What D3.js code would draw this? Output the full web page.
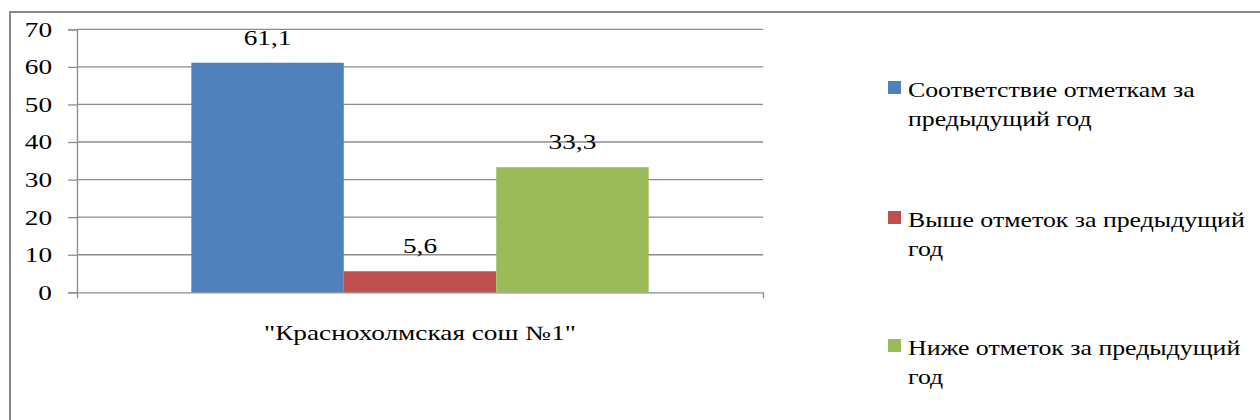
<!DOCTYPE html>
<html>
<head>
<meta charset="utf-8">
<script src="https://cdn.jsdelivr.net/npm/d3@7"></script>
</head>
<body style="margin:0;background:#fff">
<svg id="chart" width="1260" height="420" style="display:block"></svg>
<script>
// School results compared with the previous year's marks
const categories = ['"Краснохолмская сош №1"'];
const seriesNames = [
  "Соответствие отметкам за предыдущий год",
  "Выше отметок за предыдущий год",
  "Ниже отметок за предыдущий год"
];
const legendLines = [
  ["Соответствие отметкам за", "предыдущий год"],
  ["Выше отметок за предыдущий", "год"],
  ["Ниже отметок за предыдущий", "год"]
];
const seriesValues = [61.1, 5.6, 33.3];
const valueLabels = ["61,1", "5,6", "33,3"];
const yTicks = [0, 10, 20, 30, 40, 50, 60, 70];
const colors = ["#4f81bd", "#c0504d", "#9bbb59"];

// the document's text is set wide: horizontal stretch applied to labels
const SX = 1.33;
const SX_LEGEND = 1.26;
const FONT = '"Liberation Serif"';
const FSIZE = 20.5;

const svg = d3.select("#chart");

function styleText(sel) {
  return sel.attr("font-family", FONT).attr("font-size", FSIZE).attr("fill", "#000");
}

// outer chart frame (runs past the right and bottom edges)
svg.append("rect")
  .attr("x", 10).attr("y", 12)
  .attr("width", 1300).attr("height", 460)
  .attr("fill", "#fff")
  .attr("stroke", "#868686").attr("stroke-width", 2);

const plot = { left: 77, right: 763, top: 29.3, bottom: 292.3 };

const y = d3.scaleLinear().domain([0, 70]).range([plot.bottom, plot.top]);
const x0 = d3.scaleBand().domain(categories).range([plot.left, plot.right]);
// gap width 150% of a bar => bars fill 3/4.5 of the band
const x1 = d3.scaleBand().domain(seriesNames)
  .range([0, x0.bandwidth()]).paddingOuter(0.75).paddingInner(0);

// horizontal gridlines
svg.append("g")
  .selectAll("line")
  .data(yTicks.filter(t => t > 0))
  .join("line")
  .attr("x1", plot.left).attr("x2", plot.right)
  .attr("y1", d => y(d)).attr("y2", d => y(d))
  .attr("stroke", "#8c8c8c").attr("stroke-width", 1.3);

// y axis
const yAxis = svg.append("g")
  .attr("transform", `translate(${plot.left},0)`)
  .call(d3.axisLeft(y).tickValues(yTicks).tickSize(9).tickFormat(d3.format("d")));
yAxis.attr("font-family", FONT).attr("font-size", FSIZE);
yAxis.select(".domain").attr("stroke", "#8c8c8c").attr("stroke-width", 1.3);
yAxis.selectAll(".tick line").attr("stroke", "#8c8c8c").attr("stroke-width", 1.3);
yAxis.selectAll(".tick text")
  .call(styleText)
  .attr("x", -25 / SX)
  .attr("dy", "0.34em")
  .attr("transform", `scale(${SX},1)`);

// x axis
const xAxis = svg.append("g")
  .attr("transform", `translate(0,${plot.bottom})`)
  .call(d3.axisBottom(x0).tickSizeInner(0).tickSizeOuter(6).tickFormat(() => ""));
xAxis.select(".domain").attr("stroke", "#8c8c8c").attr("stroke-width", 1.3);
xAxis.selectAll(".tick").remove();

// category label
svg.append("g")
  .selectAll("text")
  .data(categories)
  .join("text")
  .call(styleText)
  .attr("transform", d => `translate(${x0(d) + x0.bandwidth() / 2},340) scale(${SX},1)`)
  .attr("text-anchor", "middle")
  .text(d => d);

// bars
const groups = svg.append("g")
  .selectAll("g")
  .data(categories)
  .join("g")
  .attr("transform", d => `translate(${x0(d)},0)`);

const rows = seriesNames.map((s, i) => ({ s, v: seriesValues[i], label: valueLabels[i], c: colors[i] }));

groups.selectAll("rect")
  .data(rows)
  .join("rect")
  .attr("x", d => x1(d.s))
  .attr("width", x1.bandwidth())
  .attr("y", d => y(d.v))
  .attr("height", d => y(0) - y(d.v))
  .attr("fill", d => d.c);

groups.selectAll("text")
  .data(rows)
  .join("text")
  .call(styleText)
  .attr("transform", d => `translate(${x1(d.s) + x1.bandwidth() / 2},${y(d.v) - 18}) scale(${SX},1)`)
  .attr("text-anchor", "middle")
  .text(d => d.label);

// legend
const legendBase = [97, 227, 355];
const legend = svg.append("g")
  .selectAll("g")
  .data(seriesNames)
  .join("g")
  .attr("transform", (d, i) => `translate(888,${legendBase[i]})`);

legend.append("rect")
  .attr("x", 0).attr("y", -16)
  .attr("width", 13).attr("height", 13)
  .attr("fill", (d, i) => colors[i]);

legend.append("text")
  .call(styleText)
  .attr("transform", `translate(20,0) scale(${SX_LEGEND},1)`)
  .selectAll("tspan")
  .data((d, i) => legendLines[i])
  .join("tspan")
  .attr("x", 0)
  .attr("dy", (d, j) => j === 0 ? 0 : 29)
  .text(d => d);
</script>
</body>
</html>
